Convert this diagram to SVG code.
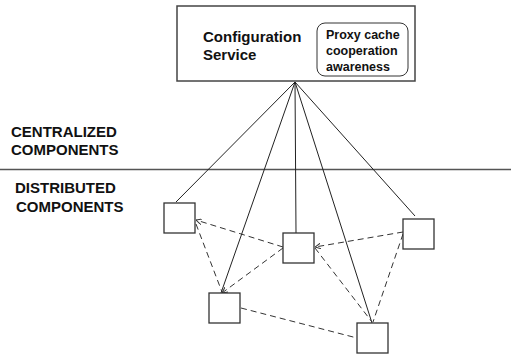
<svg xmlns="http://www.w3.org/2000/svg" width="511" height="354" viewBox="0 0 511 354">
  <style>
    .lbl { font-family: "Liberation Sans", Arial, sans-serif; font-weight: bold; fill: #111; }
    .box { fill: #fff; stroke: #444; stroke-width: 1.5; }
    .node { fill: #fff; stroke: #333; stroke-width: 1.3; }
    .link { stroke: #222; stroke-width: 1; fill: none; }
    .peer { stroke: #333; stroke-width: 1; fill: none; stroke-dasharray: 6 4; }
  </style>
  <defs>
    <marker id="tip" viewBox="0 0 6 6" refX="6" refY="3" markerWidth="6" markerHeight="6" markerUnits="userSpaceOnUse" orient="auto">
      <path d="M0,0 L6,3 L0,6" fill="none" stroke="#333" stroke-width="1"/>
    </marker>
  </defs>

  <rect width="511" height="354" fill="#fff"/>

  <!-- tier divider -->
  <line x1="0" y1="169.5" x2="511" y2="169.5" stroke="#555" stroke-width="1.3"/>
  <g id="tier-labels">
    <text class="lbl" x="11" y="137" font-size="15">CENTRALIZED</text>
    <text class="lbl" x="11" y="155" font-size="15">COMPONENTS</text>
    <text class="lbl" x="15" y="193" font-size="15">DISTRIBUTED</text>
    <text class="lbl" x="16" y="212" font-size="15">COMPONENTS</text>
  </g>

  <!-- connectors -->
  <g id="connectors">
    <line class="link" x1="295" y1="82" x2="176" y2="202"/>
    <line class="link" x1="295" y1="82" x2="221" y2="293"/>
    <line class="link" x1="295" y1="82" x2="296" y2="233"/>
    <line class="link" x1="295" y1="82" x2="372" y2="323"/>
    <line class="link" x1="295" y1="82" x2="415" y2="216"/>

    <line class="peer" x1="283" y1="247" x2="196" y2="220" marker-end="url(#tip)"/>
    <line class="peer" x1="196" y1="224" x2="222" y2="292"/>
    <line class="peer" x1="283" y1="248" x2="222" y2="293" marker-end="url(#tip)"/>
    <line class="peer" x1="403" y1="232" x2="315" y2="247" marker-end="url(#tip)"/>
    <line class="peer" x1="315" y1="248" x2="372" y2="322"/>
    <line class="peer" x1="403" y1="234" x2="373" y2="322"/>
    <line class="peer" x1="241" y1="308" x2="357" y2="338"/>
  </g>

  <g id="config-service">
    <rect class="box" x="177" y="6" width="238" height="75"/>
    <text class="lbl" x="203" y="42" font-size="15">Configuration</text>
    <text class="lbl" x="203" y="60" font-size="15">Service</text>
  </g>
  <g id="proxy-awareness">
    <rect x="317" y="23" width="91" height="53" rx="8" ry="8" fill="#fff" stroke="#333" stroke-width="1"/>
    <text class="lbl" x="326" y="39" font-size="12.5">Proxy cache</text>
    <text class="lbl" x="326" y="55" font-size="12.5">cooperation</text>
    <text class="lbl" x="326" y="71" font-size="12.5">awareness</text>
  </g>

  <g id="proxy-a"><rect class="node" x="164" y="203" width="31" height="30"/></g>
  <g id="proxy-b"><rect class="node" x="283" y="233" width="31" height="30"/></g>
  <g id="proxy-c"><rect class="node" x="403" y="219" width="31" height="30"/></g>
  <g id="proxy-d"><rect class="node" x="209" y="293" width="31" height="30"/></g>
  <g id="proxy-e"><rect class="node" x="357" y="323" width="31" height="30"/></g>
</svg>
